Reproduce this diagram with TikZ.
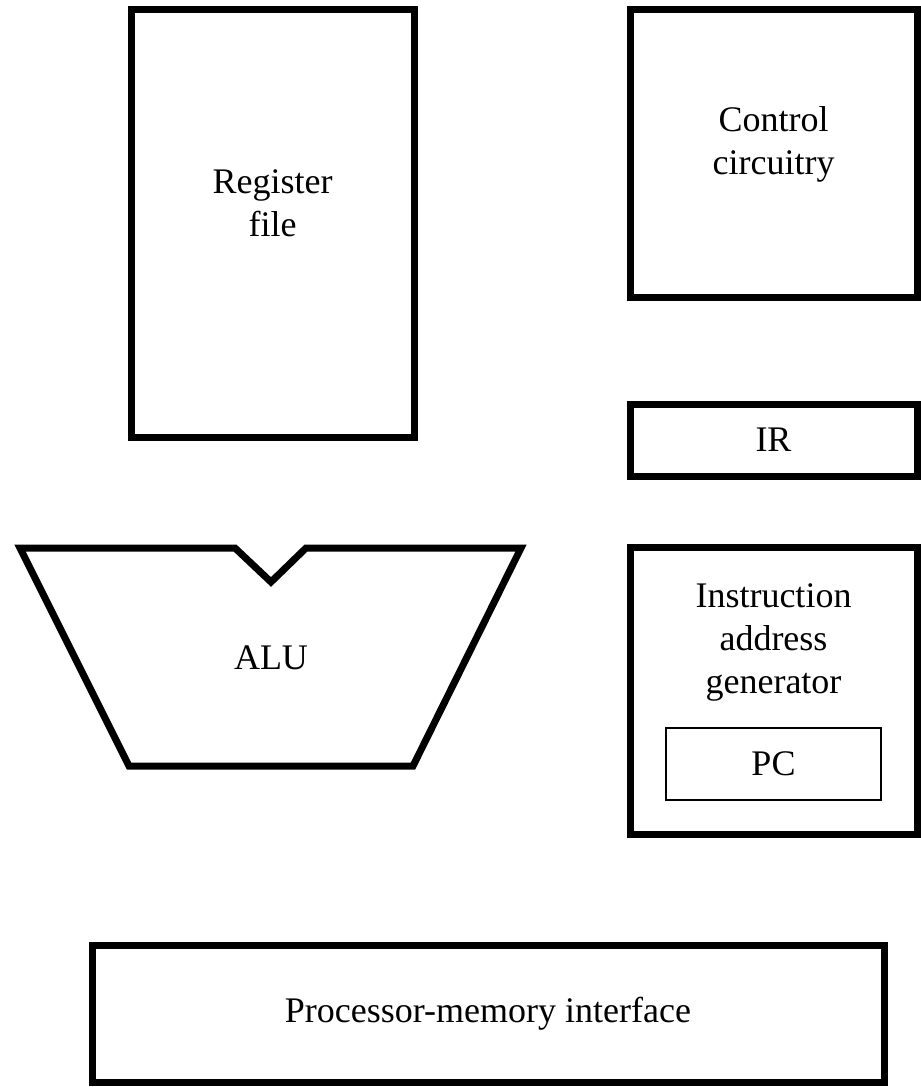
\documentclass[tikz,border=0pt]{standalone}
\usepackage{fontspec}
\setmainfont{Liberation Serif}
\usepackage{tikz}

\begin{document}
\begin{tikzpicture}[x=1pt,y=-1pt,
    blk/.style={draw,line width=7pt,inner sep=0pt},
    txt/.style={align=center,font=\fontsize{36}{43}\selectfont}]
  \useasboundingbox (0,0) rectangle (921,1087);
  % empty blocks, centre and size of each
  \foreach \nm/\cx/\cy/\w/\h in {regfile/272.5/223/283/428,ctrl/773.5/153/287/288,iag/773.5/690.5/287/287}
    \node[blk,minimum width=\w pt,minimum height=\h pt] (\nm) at (\cx,\cy) {};
  \node[txt] (regfiletxt) at (272.5,203.5) {Register\\file};
  \node[txt] (ctrltxt) at (773.5,144) {Control\\circuitry};
  \node[txt] (iagtxt) at (773.5,642.5) {Instruction\\address\\generator};
  % blocks with their own text
  \node[blk,txt,minimum width=287pt,minimum height=72pt] (ir) at (773.5,440) {IR};
  \node[txt,draw,line width=2pt,minimum width=215pt,minimum height=72pt] (pc) at (773.5,764) {PC};
  \node[blk,txt,minimum width=792pt,minimum height=137pt] (pmi) at (488,1013.5) {Processor-memory interface};
  % ALU
  \draw[line width=7pt] (20,548) -- (235,548) -- (271,582) -- (306,548) -- (521,548)
    -- (413,766) -- (129,766) -- cycle;
  \node[txt] (alu) at (271,658) {ALU};
\end{tikzpicture}
\end{document}
